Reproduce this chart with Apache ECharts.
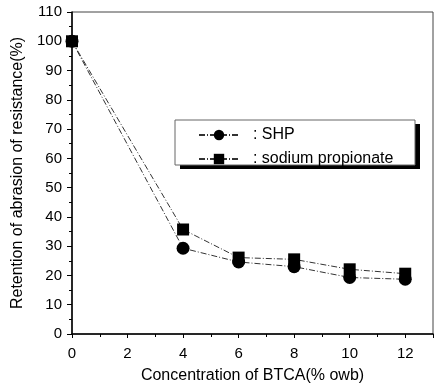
<!DOCTYPE html>
<html>
<head>
<meta charset="utf-8">
<script src="https://cdn.jsdelivr.net/npm/echarts@6/dist/echarts.min.js"></script>
<style>
  html, body { margin: 0; padding: 0; background: #fff; }
  #chart { width: 435px; height: 384px; }
</style>
</head>
<body>
<div id="chart"></div>
<script>
// BTCA concentration (% owb)
const concentration = [0, 4, 6, 8, 10, 12];
// retention of abrasion resistance (%)
const shp = [100, 29.3, 24.6, 23.0, 19.3, 18.7];
const sodiumPropionate = [100, 35.7, 26.1, 25.5, 22.1, 20.6];

const FONT = "Liberation Sans";
const INK = "#000";

const chart = echarts.init(document.getElementById("chart"), null, { renderer: "canvas" });

const pairs = (ys) => concentration.map((x, i) => [x, ys[i]]);

chart.setOption({
  animation: false,
  textStyle: { fontFamily: FONT, color: INK },
  // plot box: top and right edges come from the grid border
  // outerBoundsMode none so v6 doesn't shrink the grid to fit the names
  grid: {
    show: true,
    left: 72,
    right: 2,
    top: 12,
    bottom: 50,
    outerBoundsMode: "none",
    borderColor: "#444",
    borderWidth: 1,
  },
  // legend frame: hard black shadow behind a white outlined box
  graphic: [
    {
      type: "rect",
      z: 50,
      shape: { x: 180, y: 124, width: 240, height: 45 },
      style: { fill: "#000" },
    },
    {
      type: "rect",
      z: 51,
      shape: { x: 175, y: 120, width: 240, height: 45 },
      style: { fill: "#fff", stroke: "#666", lineWidth: 1 },
    },
  ],
  legend: {
    orient: "vertical",
    left: 175,
    top: 120,
    z: 60,
    itemWidth: 40,
    itemHeight: 13,
    itemGap: 8,
    padding: [7, 21, 7, 23],
    formatter: (name) => "  : " + name,
    textStyle: { fontFamily: FONT, fontSize: 16, color: INK },
    data: ["SHP", "sodium propionate"],
  },
  xAxis: {
    type: "value",
    min: 0,
    max: 13,
    interval: 2,
    name: "Concentration of BTCA(% owb)",
    nameLocation: "middle",
    nameGap: 34,
    nameTextStyle: { fontSize: 16, color: INK },
    axisLine: { lineStyle: { color: INK, width: 1.5 } },
    axisTick: { inside: false, length: 4, lineStyle: { color: INK } },
    minorTick: { show: true, splitNumber: 2, length: 3, lineStyle: { color: INK } },
    splitLine: { show: false },
    axisLabel: {
      fontSize: 15,
      color: INK,
      margin: 12,
      showMaxLabel: false,
    },
  },
  yAxis: {
    type: "value",
    min: 0,
    max: 110,
    interval: 10,
    name: "Retention of abrasion of resistance(%)",
    nameLocation: "middle",
    nameGap: 44,
    nameTextStyle: { fontSize: 16, color: INK },
    axisLine: { lineStyle: { color: INK, width: 1.5 } },
    axisTick: { inside: false, length: 5, lineStyle: { color: INK } },
    minorTick: { show: true, splitNumber: 2, length: 3, lineStyle: { color: INK } },
    splitLine: { show: false },
    axisLabel: { fontSize: 15, color: INK, margin: 10 },
  },
  series: [
    {
      name: "SHP",
      type: "line",
      data: pairs(shp),
      symbol: "circle",
      symbolSize: 13,
      itemStyle: { color: "#000" },
      lineStyle: { color: "#333", width: 1, type: [6, 2, 1, 2] },
      z: 3,
    },
    {
      name: "sodium propionate",
      type: "line",
      data: pairs(sodiumPropionate),
      symbol: "rect",
      symbolSize: 12,
      itemStyle: { color: "#000" },
      lineStyle: { color: "#333", width: 1, type: [6, 2, 1, 2] },
      z: 2,
    },
  ],
});
</script>
</body>
</html>
